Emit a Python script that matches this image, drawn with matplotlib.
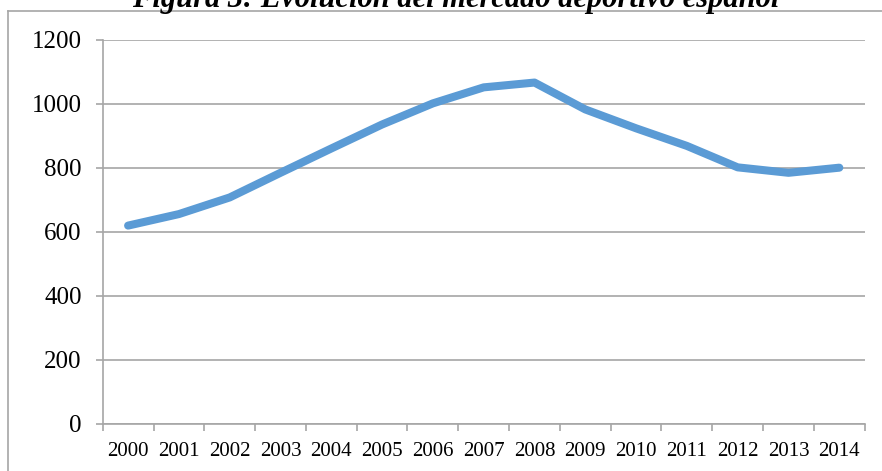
import matplotlib
matplotlib.use('Agg')
import matplotlib.pyplot as plt
from matplotlib.lines import Line2D
import numpy as np

# chart data
years = ['2000', '2001', '2002', '2003', '2004', '2005', '2006', '2007',
         '2008', '2009', '2010', '2011', '2012', '2013', '2014']
mercado = [620, 656, 708, 785, 861, 936, 1002, 1052,
           1067, 983, 924, 869, 802, 785, 801]
y_ticks = [0, 200, 400, 600, 800, 1000, 1200]
title = 'Figura 3: Evolución del mercado deportivo español'

plt.rcParams['font.family'] = ['Liberation Serif', 'DejaVu Serif']

fig = plt.figure(figsize=(8.82, 4.71), dpi=100)
ax = fig.add_axes([102.7 / 882, 47 / 471, 762 / 882, 384 / 471])

x = np.arange(len(years))
ax.plot(x, mercado, color='#5B9BD5', linewidth=5.8,
        solid_capstyle='round', solid_joinstyle='round', zorder=3)

ax.set_xlim(-0.5, len(years) - 0.5)
ax.set_ylim(0, 1200)
ax.set_yticks(y_ticks)
ax.set_yticklabels([str(v) for v in y_ticks], fontsize=18)
ax.set_xticks(x)
ax.set_xticklabels(years, fontsize=15)
ax.set_xticks(np.arange(-0.5, len(years)), minor=True)

grid_col = '#A6A6A6'
ax.grid(axis='y', color=grid_col, linewidth=1.2, zorder=1)
ax.tick_params(axis='x', which='major', length=0, pad=13)
ax.tick_params(axis='x', which='minor', length=5, color=grid_col, width=1.2)
ax.tick_params(axis='y', length=5, color=grid_col, width=1.2, pad=10)

for side in ('top', 'right'):
    ax.spines[side].set_visible(False)
for side in ('left', 'bottom'):
    ax.spines[side].set_color(grid_col)
    ax.spines[side].set_linewidth(1.2)

# outer chart border (left and top edges visible)
fig.add_artist(Line2D([8 / 882, 8 / 882], [0, 1 - 10.7 / 471],
                      transform=fig.transFigure, color=grid_col, linewidth=1.2))
fig.add_artist(Line2D([8 / 882, 1], [1 - 10.7 / 471, 1 - 10.7 / 471],
                      transform=fig.transFigure, color=grid_col, linewidth=1.2))

fig.text(0.517, 1 - 7 / 471, title, ha='center', va='baseline',
         fontsize=22, fontweight='bold', fontstyle='italic')

fig.savefig('out.png', dpi=100)
